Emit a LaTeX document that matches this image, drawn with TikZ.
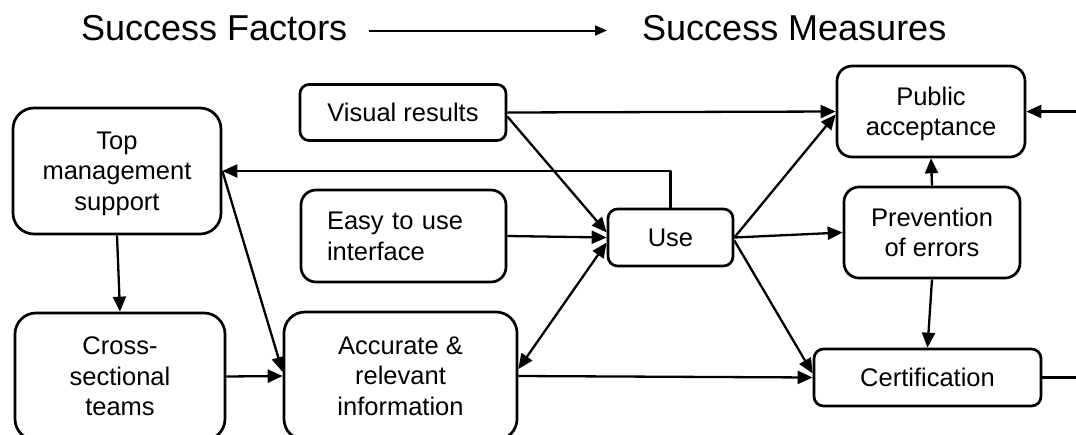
\documentclass[tikz,border=0pt]{standalone}
\usepackage{fontspec}
\setmainfont{Liberation Sans}
\usetikzlibrary{arrows.meta,calc}
\begin{document}
\begin{tikzpicture}[x=1pt,y=-1pt,line join=round,
  >={Triangle[length=15pt,width=13pt]},
  box/.style={draw,line width=2.7pt,align=center,inner sep=0pt,text depth=0pt,
    font=\fontsize{25.5}{30.5}\selectfont},
  arr/.style={line width=2.3pt,->},
  biarr/.style={line width=2.3pt,<->},
  titletext/.style={anchor=west,inner sep=0pt,font=\fontsize{36}{42}\selectfont},
]
\useasboundingbox (0,0) rectangle (1076,434);
\clip (0,0) rectangle (1076,434);

% heading
\node[titletext] (sf) at (81,28.5) {Success Factors};
\node[titletext] (sm) at (642,28.5) {Success Measures};
\draw[line width=2pt,-{Triangle[length=12pt,width=10pt]}]
  ($(sf.east)+(22,2)$) -- ($(sm.west)+(-35,2)$);

% success factors
\node[box,minimum width=208pt,minimum height=126pt,rounded corners=21pt] (tms) at (117,171) {Top\\management\\support};
\node[box,minimum width=210pt,minimum height=127pt,rounded corners=21pt] (cst) at (120,376.5) {Cross-\\sectional\\teams};
\node[box,minimum width=206pt,minimum height=56pt,rounded corners=9pt] (vis) at (403,112.5) {Visual results};
\node[box,minimum width=205pt,minimum height=92pt,rounded corners=15pt,text width=153pt,align=left,text depth=30.5pt] (eas) at (403.5,236) {Easy to use\\interface};
\node[box,minimum width=233pt,minimum height=128pt,rounded corners=21pt] (acc) at (400.5,376) {Accurate \&\\relevant\\information};

% success measures
\node[box,minimum width=125pt,minimum height=57pt,rounded corners=9.5pt] (use) at (670.5,237.5) {Use};
\node[box,minimum width=188pt,minimum height=91pt,rounded corners=15pt] (pub) at (931,111.5) {Public\\acceptance};
\node[box,minimum width=176pt,minimum height=91pt,rounded corners=15pt] (pre) at (932,232.5) {Prevention\\of errors};
\node[box,minimum width=227pt,minimum height=57pt,rounded corners=9.5pt] (cer) at (927.5,377.5) {Certification};

% return path of the loop, beyond the right edge
\coordinate (rt) at (1100,0);

% connectors
\draw[arr] (tms.south) -- (cst.north);
\draw[arr] (tms.east) -- ($(acc.west)+(0,-4)$);
\draw[arr] (cst.east) -- (acc.west);
\draw[arr] (vis.east) -- (pub.west);
\draw[arr] ($(vis.east)+(0,4)$) -- ($(use.west)+(0,-5)$);
\draw[arr] (use.north) |- (tms.east);
\draw[arr] (eas.east) -- (use.west);
\draw[biarr] ($(use.west)+(0,5)$) -- ($(acc.east)+(0,-7)$);
\draw[arr] (acc.east) -- (cer.west);
\draw[arr] (use.east) -- ($(pub.west)+(0,3)$);
\draw[arr] (use.east) -- (pre.west);
\draw[arr] ($(use.east)+(0,3)$) -- ($(cer.west)+(0,-4)$);
\draw[arr] (pre.north) -- (pub.south);
\draw[arr] (pre.south) -- (cer.north);
\draw[arr] (cer.east) -- (cer.east -| rt) |- (pub.east);
\end{tikzpicture}
\end{document}
